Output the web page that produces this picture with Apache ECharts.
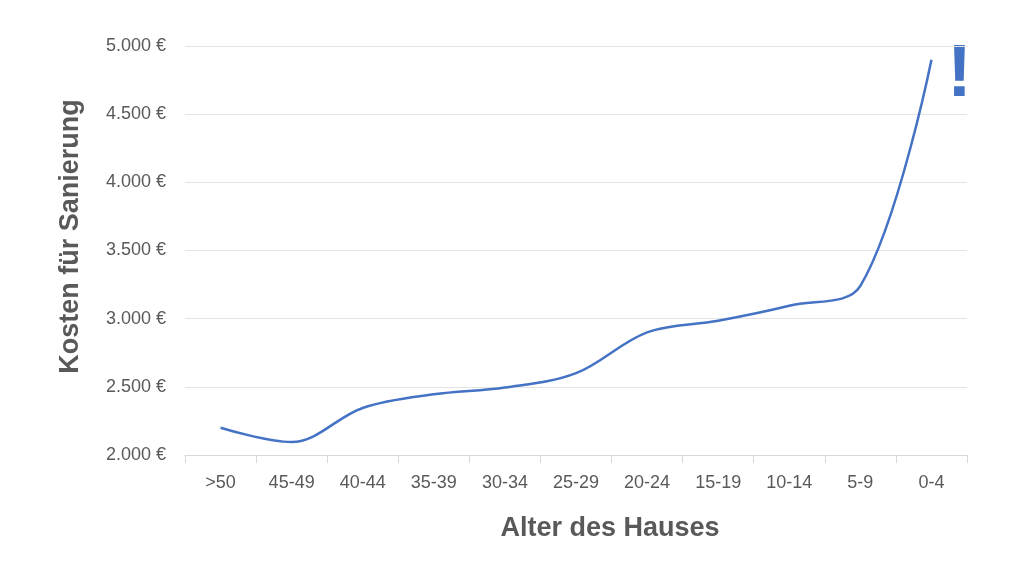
<!DOCTYPE html>
<html>
<head>
<meta charset="utf-8">
<script src="https://cdn.jsdelivr.net/npm/echarts@6/dist/echarts.min.js"></script>
<style>
html, body { margin: 0; padding: 0; background: #fff; }
#main { width: 1024px; height: 576px; }
</style>
</head>
<body>
<div id="main"></div>
<script>
var categories = ['>50', '45-49', '40-44', '35-39', '30-34', '25-29', '20-24', '15-19', '10-14', '5-9', '0-4'];
var kosten = [2200, 2095, 2345, 2445, 2495, 2600, 2900, 2985, 3095, 3240, 4900];
var yTicks = { min: 2000, max: 5000, interval: 500 };

function euro(v) {
	return String(v).replace(/\B(?=(\d{3})+(?!\d))/g, '.') + ' €';
}

var option = {
	animation: false,
	textStyle: { fontFamily: 'Liberation Sans, Arial, sans-serif' },
	grid: { left: 185, right: 57, top: 46, bottom: 121 },
	xAxis: {
		type: 'category',
		data: categories,
		boundaryGap: true,
		name: 'Alter des Hauses',
		nameLocation: 'middle',
		nameGap: 60,
		nameTextStyle: { fontSize: 27, fontWeight: 'bold', color: '#595959', padding: [0, 0, 0, 68] },
		axisLine: { lineStyle: { color: '#d9d9d9', width: 1 } },
		axisTick: { show: true, length: 8, lineStyle: { color: '#d9d9d9' } },
		axisLabel: { fontSize: 18, color: '#595959', margin: 19 }
	},
	yAxis: {
		type: 'value',
		min: yTicks.min,
		max: yTicks.max,
		interval: yTicks.interval,
		name: 'Kosten für Sanierung',
		nameLocation: 'middle',
		nameGap: 101,
		nameTextStyle: { fontSize: 27, fontWeight: 'bold', color: '#595959', padding: [0, 0, 0, 28] },
		axisLine: { show: false },
		axisTick: { show: false },
		axisLabel: { fontSize: 18, color: '#595959', margin: 19, formatter: euro },
		splitLine: { lineStyle: { color: '#e3e3e3', width: 1 } }
	},
	series: [{
		type: 'line',
		data: kosten,
		smooth: 0.35,
		symbol: 'none',
		lineStyle: { color: '#4472C4', width: 2.5 }
	}],
	graphic: [{
		type: 'text',
		left: 947,
		top: 38,
		style: {
			text: '!',
			fill: '#4472C4',
			font: 'bold 75px Liberation Sans, Arial, sans-serif'
		}
	}]
};

var myChart = echarts.init(document.getElementById('main'));
myChart.setOption(option);
</script>
</body>
</html>
